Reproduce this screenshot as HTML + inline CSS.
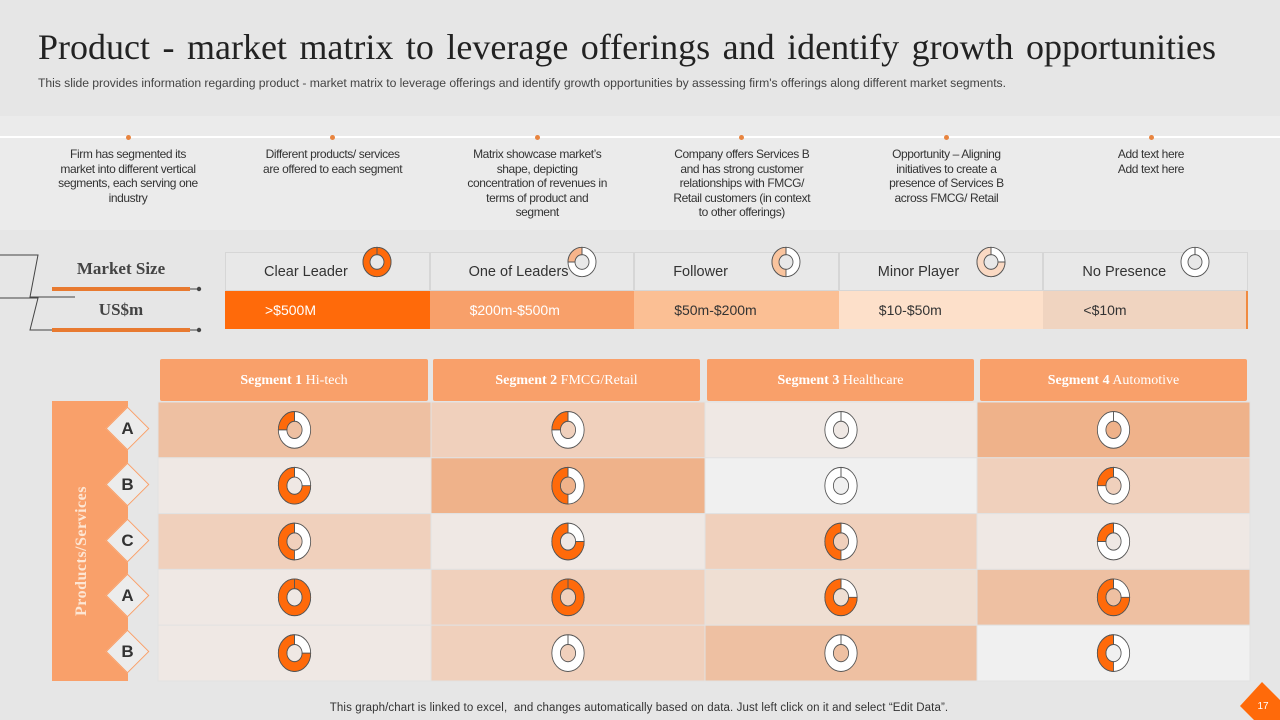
<!DOCTYPE html>
<html><head><meta charset="utf-8">
<style>
*{margin:0;padding:0;box-sizing:border-box}
body{width:1280px;height:720px;background:#e6e6e6;position:relative;overflow:hidden;font-family:"Liberation Sans",sans-serif;color:#333}
.abs{position:absolute}
.title{left:38px;top:26px;font-family:"Liberation Serif",serif;font-size:36px;color:#222;white-space:nowrap;word-spacing:3.5px}
.sub{left:38px;top:76px;font-size:12.2px;color:#444;white-space:nowrap;letter-spacing:-0.05px}
.band{left:0;top:116px;width:1280px;height:114px;background:#ebebeb}
.wline{left:0;top:136px;width:1280px;height:2px;background:#fff}
.dot{width:5px;height:5px;border-radius:50%;background:#e8843f;top:135px}
.note{top:147px;width:146px;text-align:center;font-size:12px;line-height:14.5px;color:#333;letter-spacing:-0.4px}
.lh{top:252px;height:39px;border:1px solid #d6d6d6;background:#e8e8e8;font-size:14.5px;line-height:38px;padding-left:38px;color:#333}
.lv{top:291px;height:38px;font-size:14px;line-height:38px;padding-left:40px}
.seg{top:359px;height:42px;background:#f9a06a;color:#fff;font-family:"Liberation Serif",serif;font-size:14px;text-align:center;line-height:44px;border-radius:2px}
.diam{width:31px;height:31px;transform:rotate(45deg);background:#ececec;border:1px solid #f9a06a}
.dl{width:31px;height:31px;font-size:17px;font-weight:bold;text-align:center;line-height:31px;color:#333}
</style></head><body>
<div class="abs title">Product - market matrix to leverage offerings and identify growth opportunities</div>
<div class="abs sub">This slide provides information regarding product - market matrix to leverage offerings and identify growth opportunities by assessing firm's offerings along different market segments.</div>
<div class="abs band"></div>
<div class="abs wline"></div>
<div id="notes"></div>

<svg class="abs" style="left:0;top:250px" width="210" height="90">
<polyline points="0,5 38,5 30,47 75,47" fill="none" stroke="#444" stroke-width="1"/>
<polyline points="0,48 38,48 30,80 75,80" fill="none" stroke="#444" stroke-width="1"/>
<rect x="52" y="37" width="138" height="4" fill="#e87a30"/>
<line x1="190" y1="39" x2="198" y2="39" stroke="#444"/><circle cx="199" cy="39" r="2.2" fill="#444"/>
<rect x="52" y="78" width="138" height="4" fill="#e87a30"/>
<line x1="190" y1="80" x2="198" y2="80" stroke="#444"/><circle cx="199" cy="80" r="2.2" fill="#444"/>
</svg>
<div class="abs" style="left:52px;top:259px;width:138px;text-align:center;font-family:'Liberation Serif',serif;font-weight:bold;font-size:17px;color:#444">Market Size</div>
<div class="abs" style="left:52px;top:300px;width:138px;text-align:center;font-family:'Liberation Serif',serif;font-weight:bold;font-size:17px;color:#444">US$m</div>
<div id="legend"></div>
<div class="abs" style="left:1246px;top:291px;width:2px;height:38px;background:#f08a40"></div>

<div id="segs"></div>
<div class="abs" style="left:52px;top:401px;width:76px;height:280px;background:#f9a06a"></div>
<div class="abs" style="left:82px;top:551px;transform:translate(-50%,-50%) rotate(-90deg);font-family:'Liberation Serif',serif;font-weight:bold;font-size:16px;color:#fde6d4;white-space:nowrap;letter-spacing:0.5px">Products/Services</div>
<svg id="grid" class="abs" style="left:0;top:0" width="1280" height="720"></svg>
<div id="diams"></div>

<div class="abs" style="left:0;top:702px;width:1278px;text-align:center;font-size:11.5px;color:#333;letter-spacing:0.1px">This graph/chart is linked to excel,&nbsp; and changes automatically based on data. Just left click on it and select “Edit Data”.</div>
<svg class="abs" style="left:1240px;top:680px" width="40" height="40"><polygon points="0,26 22,2 40,20 40,40 14,40" fill="#ff6a0a"/><text x="23" y="29" font-size="10" fill="#fff" text-anchor="middle" font-family="Liberation Sans">17</text></svg>

<script>
const notes=["Firm has segmented its market into different vertical segments, each serving one industry","Different products/ services are offered to each segment","Matrix  showcase market’s shape, depicting concentration of revenues in terms of product and segment","Company offers Services B and has strong customer relationships with FMCG/ Retail customers (in context to other offerings)","Opportunity – Aligning initiatives to create a presence of Services B across FMCG/ Retail","Add text here<br>Add text here"];
const legendLabels=["Clear Leader","One of Leaders","Follower","Minor Player","No Presence"];
const legendRanges=[">$500M","$200m-$500m","$50m-$200m","$10-$50m","<$10m"];
const legendValues=[1,0.25,0.5,0.75,0];
const legendFills=["#ff6a0a","#f7b48a","#f9c49e","#fad9c3","#ff6a0a"];
const segNums=["Segment 1","Segment 2","Segment 3","Segment 4"];
const segNames=["Hi-tech","FMCG/Retail","Healthcare","Automotive"];
const rowLabels=["A","B","C","A","B"];
const seg1=[0.25,0.75,0.5,1,0.75];
const seg2=[0.25,0.5,0.75,1,0];
const seg3=[0,0,0.5,0.75,0];
const seg4=[0,0.25,0.25,0.75,0.5];
const cellColors=[["#eec0a2","#f0d0bc","#efe8e4","#efb28a"],["#efe8e4","#efb28a","#f0f0f0","#f0d0bc"],["#f0d0bc","#efe8e4","#f0d0bc","#efe8e4"],["#efe8e4","#f0d0bc","#efdfd3","#eec0a2"],["#efe8e4","#f0d0bc","#eec0a2","#f0f0f0"]];
const series=[seg1,seg2,seg3,seg4];
const NS="http://www.w3.org/2000/svg";

function donut(cx,cy,R,r,p,fill,sx,sy){
  const g=document.createElementNS(NS,"g");
  g.setAttribute("transform",`translate(${cx},${cy}) scale(${sx},${sy})`);
  const ring=document.createElementNS(NS,"path");
  ring.setAttribute("d",`M${-R},0a${R},${R} 0 1,0 ${2*R},0a${R},${R} 0 1,0 ${-2*R},0M${-r},0a${r},${r} 0 1,1 ${2*r},0a${r},${r} 0 1,1 ${-2*r},0`);
  ring.setAttribute("fill","#fff");ring.setAttribute("fill-rule","evenodd");ring.setAttribute("stroke","#555");ring.setAttribute("stroke-width","0.9");
  g.appendChild(ring);
  if(p>0){
    const s=document.createElementNS(NS,"path");
    if(p>=1){s.setAttribute("d",ring.getAttribute("d"));s.setAttribute("fill-rule","evenodd");}
    else{
      const a=p*2*Math.PI,si=Math.sin(a),co=Math.cos(a),L=p>0.5?1:0;
      s.setAttribute("d",`M0,${-R}A${R},${R} 0 ${L},0 ${-R*si},${-R*co}L${-r*si},${-r*co}A${r},${r} 0 ${L},1 0,${-r}Z`);
    }
    s.setAttribute("fill",fill);s.setAttribute("stroke","#555");s.setAttribute("stroke-width","0.9");
    g.appendChild(s);
  }
  const ln=document.createElementNS(NS,"line");
  ln.setAttribute("x1",0);ln.setAttribute("y1",-R);ln.setAttribute("x2",0);ln.setAttribute("y2",-r);ln.setAttribute("stroke","#555");
  g.appendChild(ln);
  return g;
}

const nW=204.6,nX0=128;
const notesEl=document.getElementById("notes");
notes.forEach((t,i)=>{
  const cx=nX0+i*nW;
  const d=document.createElement("div");d.className="abs dot";d.style.left=(cx-2.5)+"px";
  
  
  notesEl.appendChild(d);
  const n=document.createElement("div");n.className="abs note";n.style.left=(cx-73)+"px";n.innerHTML=t;
  
  
  notesEl.appendChild(n);
});

const lg=document.getElementById("legend");
const lX0=225,lW=204.6,vCol=["#ff6a0a","#f8a06a","#fbbf94","#fde0ca","#f0d4c0"],vTxt=["#fff","#fff","#333","#333","#333"];
legendLabels.forEach((t,i)=>{
  const x=lX0+i*lW;
  const h=document.createElement("div");h.className="abs lh";h.style.left=x+"px";h.style.width=lW+"px";h.textContent=t;
  
  
  lg.appendChild(h);
  const v=document.createElement("div");v.className="abs lv";v.style.left=x+"px";v.style.width=lW+"px";v.style.background=vCol[i];v.style.color=vTxt[i];v.textContent=legendRanges[i];
  
  
  lg.appendChild(v);
  const s=document.createElementNS(NS,"svg");s.setAttribute("width","40");s.setAttribute("height","40");s.setAttribute("class","abs");
  s.style.left=(x+132)+"px";s.style.top="242px";
  
  
  s.appendChild(donut(20,20,14,7,legendValues[i],legendFills[i],1,1.05));
  lg.appendChild(s);
});

const sg=document.getElementById("segs");
const sX=[160,433,707,980],sW=[268,267,267,267];
segNums.forEach((t,i)=>{
  const d=document.createElement("div");d.className="abs seg";d.style.left=sX[i]+"px";d.style.width=sW[i]+"px";
  d.innerHTML="<b>"+t+"</b> "+segNames[i];
  
  
  sg.appendChild(d);
});

const grid=document.getElementById("grid");
const cX=[158,431,705,977,1250],rY0=402,rH=55.8;
function colX(j){return cX[j];}
function rowY(i){return rY0+i*rH;}
rowLabels.forEach((lab,i)=>{
  series.forEach((ser,j)=>{
    const r=document.createElementNS(NS,"rect");
    r.setAttribute("x",colX(j));r.setAttribute("y",rowY(i));r.setAttribute("width",colX(j+1)-colX(j));r.setAttribute("height",rH);
    r.setAttribute("fill",cellColors[i][j]);r.setAttribute("stroke","#e2e2e2");r.setAttribute("stroke-width","1");
    
    
    grid.appendChild(r);
    const g=donut((colX(j)+colX(j+1))/2,rowY(i)+rH/2,17,8,ser[i],"#ff6a0a",0.95,1.08);
    
    
    grid.appendChild(g);
  });
  const dd=document.getElementById("diams");
  const cy=rowY(i)+rH/2-2;
  const dm=document.createElement("div");dm.className="abs diam";dm.style.left="112px";dm.style.top=(cy-15)+"px";
  
  
  dd.appendChild(dm);
  const tl=document.createElement("div");tl.className="abs dl";tl.style.left="112px";tl.style.top=(cy-15)+"px";tl.textContent=lab;
  
  
  dd.appendChild(tl);
});
</script>
</body></html>
